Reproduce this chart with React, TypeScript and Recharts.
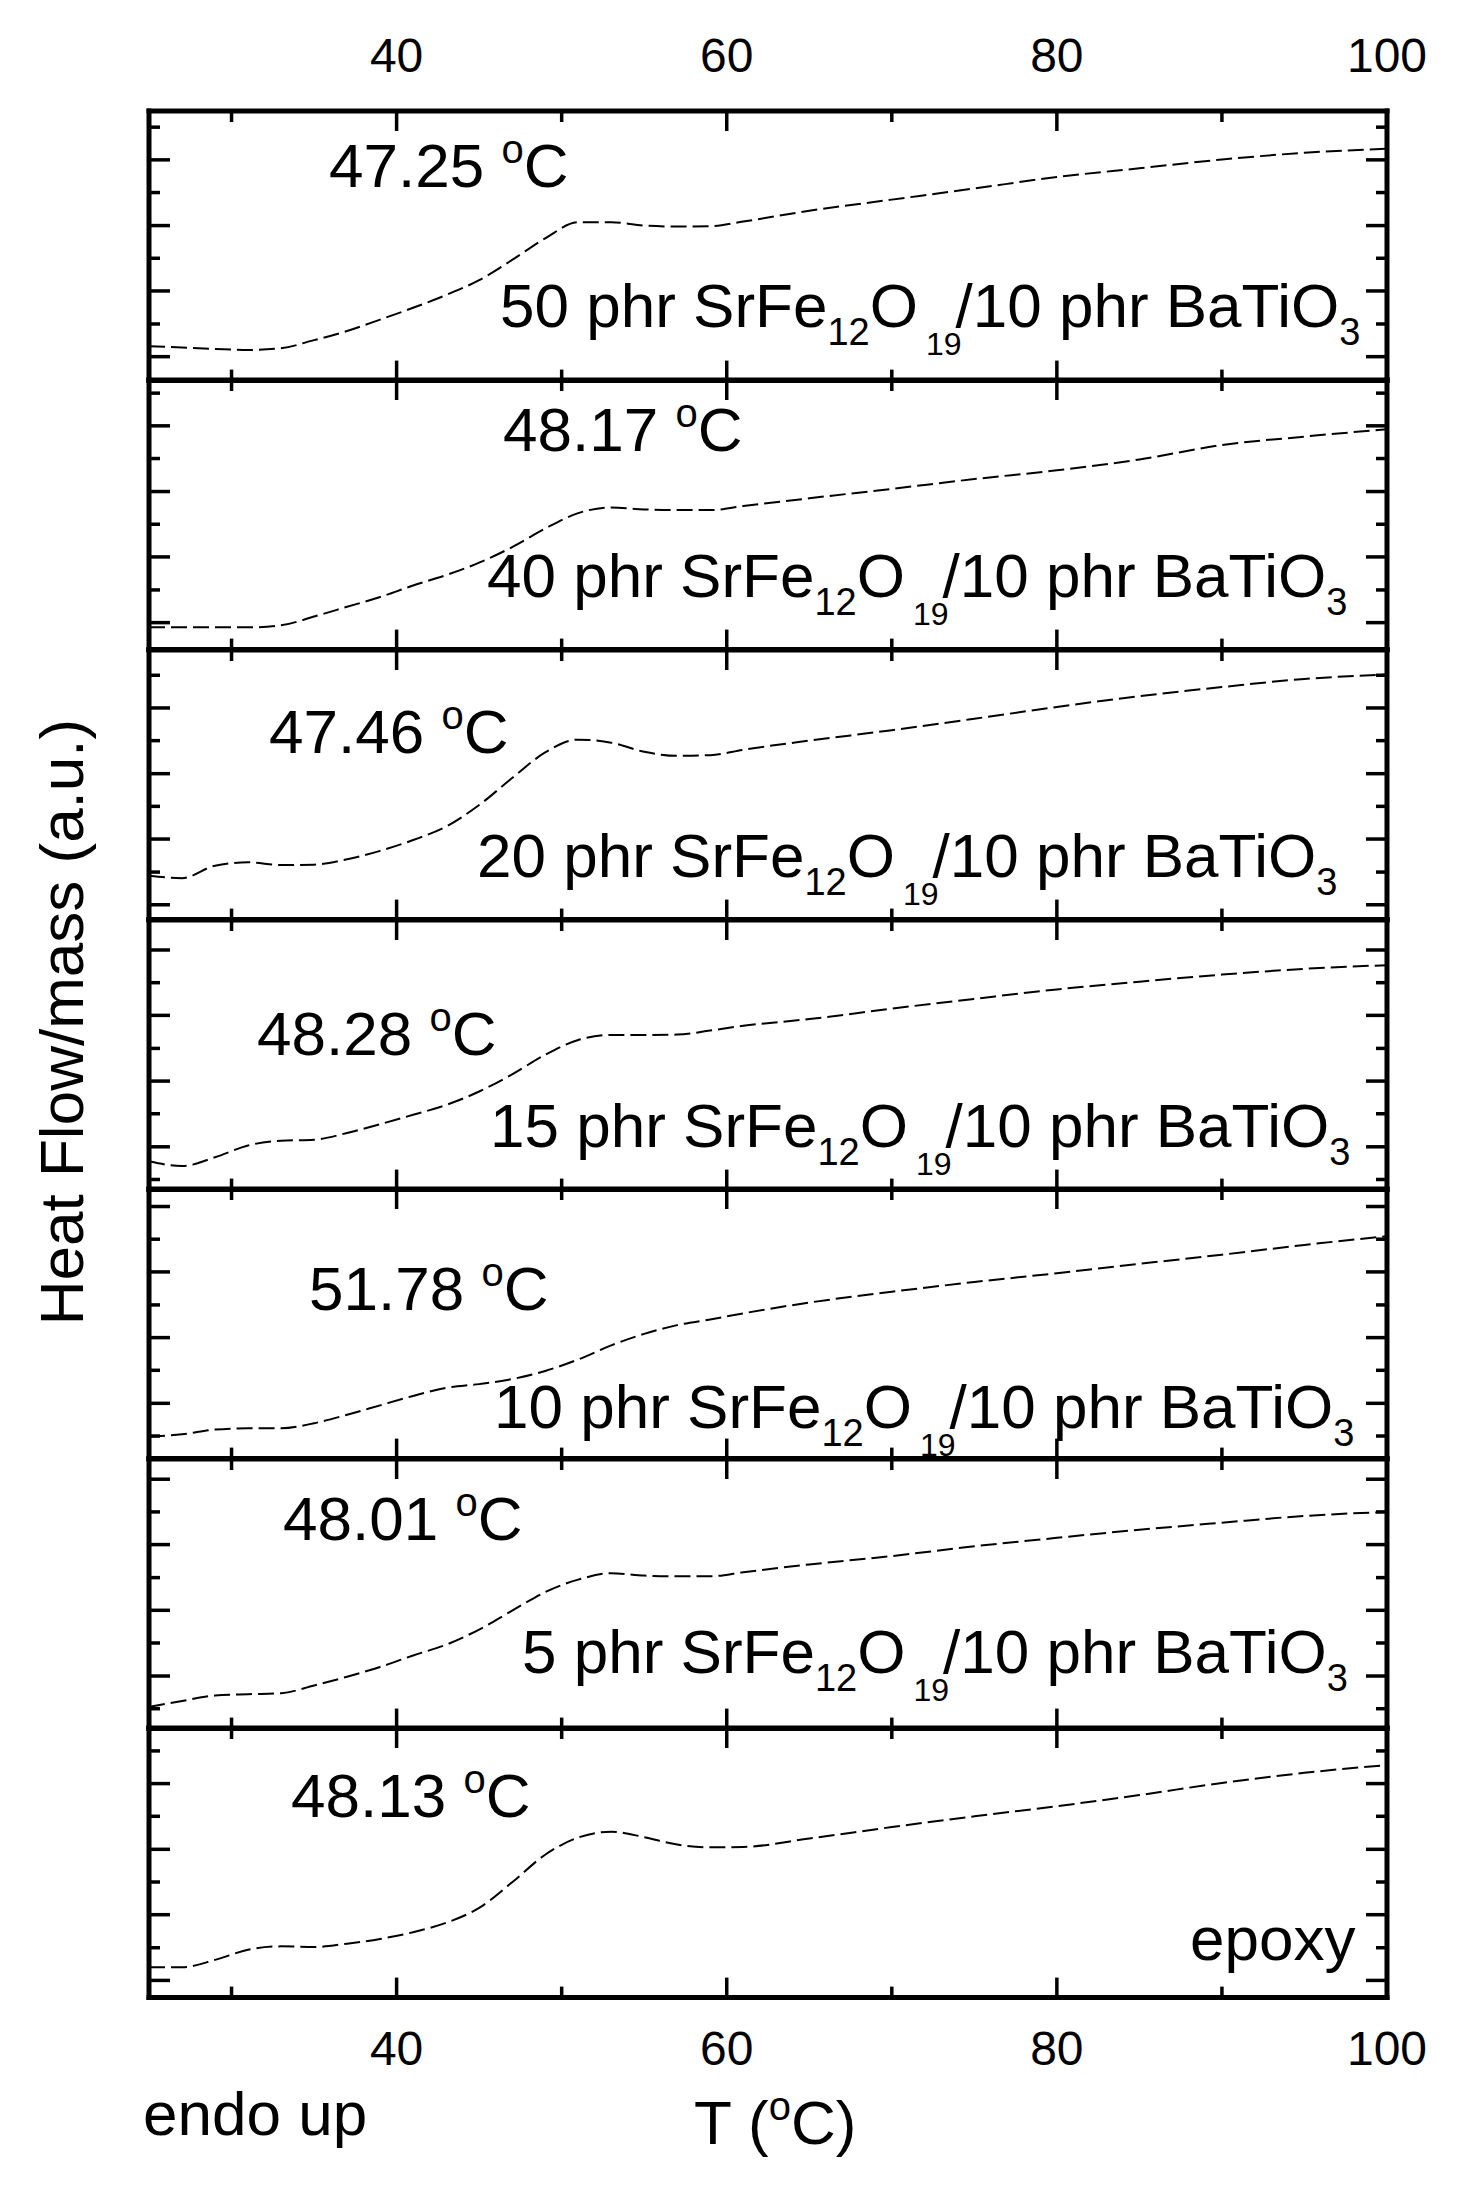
import { LineChart, Line, XAxis, YAxis } from "recharts"

// temperature grid (°C) shared by every DSC trace
const temps = [25, 27, 29, 31, 33, 35, 37, 39, 41, 43, 45, 47, 49, 51, 53, 55, 57, 59, 61, 65, 70, 75, 80, 85, 90, 95, 100]

// heat flow / mass (a.u.), top panel to bottom panel
const hf50 = [1.02, 0.98, 0.94, 0.91, 0.96, 1.2, 1.47, 1.81, 2.16, 2.54, 2.98, 3.58, 4.22, 4.7, 4.7, 4.6, 4.57, 4.58, 4.72, 5.04, 5.37, 5.7, 6.04, 6.3, 6.56, 6.76, 6.88]
const hf40 = [0.66, 0.66, 0.66, 0.66, 0.72, 0.98, 1.27, 1.56, 1.9, 2.21, 2.58, 3.04, 3.59, 4.05, 4.22, 4.16, 4.14, 4.14, 4.26, 4.49, 4.77, 5.06, 5.32, 5.64, 6.07, 6.32, 6.54]
const hf20 = [1.3, 1.23, 1.6, 1.7, 1.62, 1.63, 1.79, 2.04, 2.36, 2.76, 3.4, 4.2, 4.96, 5.34, 5.25, 4.98, 4.86, 4.88, 5.04, 5.31, 5.62, 5.96, 6.31, 6.63, 6.9, 7.14, 7.27]
const hf15 = [0.84, 0.7, 0.96, 1.31, 1.45, 1.48, 1.68, 1.94, 2.22, 2.51, 2.91, 3.42, 4.0, 4.44, 4.59, 4.59, 4.6, 4.72, 4.86, 5.06, 5.37, 5.66, 5.94, 6.17, 6.38, 6.55, 6.66]
const hf10 = [0.65, 0.72, 0.86, 0.9, 0.9, 1.05, 1.3, 1.58, 1.86, 2.1, 2.21, 2.36, 2.6, 2.94, 3.36, 3.7, 3.96, 4.13, 4.31, 4.63, 4.95, 5.24, 5.5, 5.78, 6.05, 6.34, 6.6]
const hf5 = [0.64, 0.82, 0.98, 1.02, 1.05, 1.28, 1.54, 1.83, 2.17, 2.49, 2.94, 3.5, 4.05, 4.42, 4.61, 4.54, 4.52, 4.52, 4.64, 4.87, 5.12, 5.41, 5.66, 5.9, 6.11, 6.31, 6.43]
const hfEpoxy = [0.9, 0.9, 1.12, 1.42, 1.52, 1.5, 1.6, 1.74, 1.94, 2.22, 2.66, 3.42, 4.24, 4.75, 4.92, 4.76, 4.54, 4.46, 4.47, 4.72, 5.06, 5.38, 5.68, 6.01, 6.37, 6.67, 6.9]

const tgLabels = ["47.25", "48.17", "47.46", "48.28", "51.78", "48.01", "48.13"]
const phrLabels = ["50", "40", "20", "15", "10", "5"]

const xTicks = [30, 40, 50, 60, 70, 80, 90, 100]
const yTicks1 = [0.71, 1.68, 2.66, 3.63, 4.6, 5.58, 6.55, 7.52]
const yTicks2 = [0.8, 1.77, 2.75, 3.72, 4.69, 5.67, 6.64, 7.61]
const yTicks3 = [0.44, 1.41, 2.39, 3.36, 4.33, 5.31, 6.28, 7.25]
const yTicks4 = [0.3, 1.27, 2.25, 3.22, 4.19, 5.17, 6.14, 7.11]
const yTicks5 = [0.67, 1.64, 2.62, 3.59, 4.56, 5.54, 6.51, 7.48]
const yTicks6 = [0.59, 1.56, 2.54, 3.51, 4.48, 5.46, 6.43, 7.4]
const yTicks7 = [0.51, 1.48, 2.46, 3.43, 4.4, 5.38, 6.35, 7.32]

const panels = [
  { values: hf50, yTicks: yTicks1, majorFirst: true },
  { values: hf40, yTicks: yTicks2, majorFirst: true },
  { values: hf20, yTicks: yTicks3, majorFirst: true },
  { values: hf15, yTicks: yTicks4, majorFirst: false },
  { values: hf10, yTicks: yTicks5, majorFirst: false },
  { values: hf5, yTicks: yTicks6, majorFirst: false },
  { values: hfEpoxy, yTicks: yTicks7, majorFirst: true },
]

const FONT = "'Liberation Sans', Arial, sans-serif"
const PLOT_LEFT = 149
const PLOT_W = 1238
const PLOT_TOP = 110.7
const PANEL_H = 269.6
const ML = 10
const MR = 60

// where the texts sit, in page pixels
const tgPos = [[329, 187], [503, 451], [269, 753], [257, 1055], [309, 1310], [283, 1540], [291, 1817]]
const phrPos = [[500, 327], [487, 597], [477, 877], [490, 1147], [494, 1428], [522, 1673]]

function Panel({ index, values, yTicks, majorFirst }: any) {
  const first = index === 0
  const last = index === panels.length - 1
  const mt = first ? 100 : 8
  const mb = last ? 100 : 8
  const data = temps.map((t, i) => ({ t, v: values[i] }))

  // the bottom axis draws the inward ticks of both the bottom and the top edge
  const xTick = (p: any) => {
    const v = p.payload.value
    const major = v % 20 === 0
    const len = major ? 20 : 11
    const yb = mt + PANEL_H
    return (
      <g>
        {v < 100 && <line x1={p.x} x2={p.x} y1={yb} y2={yb - len} stroke="#000" strokeWidth={3.5} />}
        {v < 100 && <line x1={p.x} x2={p.x} y1={mt} y2={mt + len} stroke="#000" strokeWidth={3.5} />}
        {major && (first || last) && (
          <text x={p.x} y={first ? mt - 39 : yb + 67} textAnchor="middle" fontSize={48} fontFamily={FONT} fill="#000">
            {v}
          </text>
        )}
      </g>
    )
  }

  const yTick = (side: "left" | "right") => (p: any) => {
    const i = yTicks.indexOf(p.payload.value)
    const major = (i % 2 === 0) === majorFirst
    const x0 = side === "left" ? ML : ML + PLOT_W
    const dir = side === "left" ? 1 : -1
    return <line x1={x0} x2={x0 + dir * (major ? 21 : 11)} y1={p.y} y2={p.y} stroke="#000" strokeWidth={3.5} />
  }

  const frame = { stroke: "#000", strokeWidth: 5, strokeLinecap: "square" as const }

  // axes get 1px of room each (recharts skips zero-sized axes), margins shrink to match
  return (
    <div style={{ position: "absolute", left: PLOT_LEFT - ML, top: PLOT_TOP + index * PANEL_H - mt }}>
      <LineChart width={PLOT_W + ML + MR} height={PANEL_H + mt + mb} data={data}
        margin={{ top: mt - 1, bottom: mb - 1, left: ML - 1, right: MR - 1 }}>
        <XAxis dataKey="t" type="number" domain={[25, 100]} allowDataOverflow ticks={xTicks} interval={0} height={1}
          axisLine={frame} tickLine={false} tick={xTick} />
        <XAxis xAxisId="top" dataKey="t" orientation="top" type="number" domain={[25, 100]} allowDataOverflow height={1}
          axisLine={frame} tickLine={false} tick={false} />
        <YAxis type="number" domain={[0, 8]} allowDataOverflow ticks={yTicks} interval={0} width={1}
          axisLine={frame} tickLine={false} tick={yTick("left")} />
        <YAxis yAxisId="right" orientation="right" type="number" domain={[0, 8]} allowDataOverflow ticks={yTicks} interval={0} width={1}
          axisLine={frame} tickLine={false} tick={yTick("right")} />
        <Line type="monotone" dataKey="v" stroke="#000" strokeWidth={2} strokeDasharray="16 6" dot={false} isAnimationActive={false} />
      </LineChart>
    </div>
  )
}

export default function App() {
  return (
    <div style={{ position: "absolute", left: 0, top: 0, width: 1458, height: 2187, background: "#fff" }}>
      {panels.map((p, i) => (
        <Panel key={i} index={i} {...p} />
      ))}
      <svg width={1458} height={2187} style={{ position: "absolute", left: 0, top: 0, pointerEvents: "none" }}
        fontFamily={FONT} fill="#000">
        {tgLabels.map((t, i) => (
          <text key={"tg" + i} x={tgPos[i][0]} y={tgPos[i][1]} fontSize={62}>
            {t + " "}
            <tspan fontSize={40} dy={-24}>o</tspan>
            <tspan fontSize={62} dy={24}>C</tspan>
          </text>
        ))}
        {phrLabels.map((n, i) => (
          <text key={"phr" + i} x={phrPos[i][0]} y={phrPos[i][1]} fontSize={62}>
            {n + " phr SrFe"}
            <tspan fontSize={38} dy={18}>12</tspan>
            <tspan fontSize={62} dy={-18}>O</tspan>
            <tspan fontSize={32} dy={28} dx={8}>19</tspan>
            <tspan fontSize={62} dy={-28} dx={-6}>/10 phr BaTiO</tspan>
            <tspan fontSize={38} dy={18}>3</tspan>
          </text>
        ))}
        <text x={1190} y={1960} fontSize={62}>epoxy</text>
        <text x={83} y={1022} fontSize={62} textAnchor="middle" transform="rotate(-90 83 1022)">
          Heat Flow/mass (a.u.)
        </text>
        <text x={143} y={2135} fontSize={62}>endo up</text>
        <text x={694} y={2144} fontSize={62}>
          {"T ("}
          <tspan fontSize={40} dy={-24}>o</tspan>
          <tspan fontSize={62} dy={24}>C)</tspan>
        </text>
      </svg>
    </div>
  )
}
